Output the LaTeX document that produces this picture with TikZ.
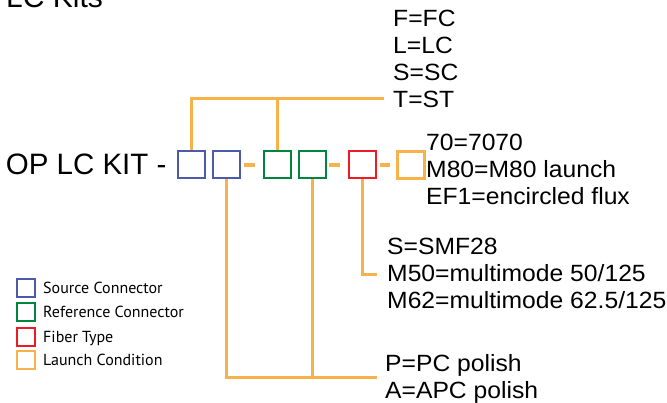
\documentclass[tikz,border=0pt]{standalone}
\usepackage{fontspec}
\setmainfont{Liberation Sans}
\newfontfamily\codefont[FakeStretch=1.05]{Liberation Sans}
\newfontfamily\legendfont{PT Sans}
\usetikzlibrary{positioning}

\definecolor{srcblue}{RGB}{75,90,170}
\definecolor{refgreen}{RGB}{0,133,63}
\definecolor{fibred}{RGB}{237,28,36}
\definecolor{launchorange}{RGB}{247,178,76}

\begin{document}
\begin{tikzpicture}[x=1pt, y=-1pt, kitbox/.style={draw, line width=2pt, minimum size=27pt, inner sep=0pt}, legbox/.style={draw, line width=2pt, minimum size=18pt, inner sep=0pt}, link/.style={launchorange, line width=4.5pt, shorten <=3pt, shorten >=8pt}, leader/.style={launchorange, line width=3pt}, codes/.style={font=\codefont\fontsize{23.5}{27}\selectfont, align=left, anchor=north west, inner sep=0pt}, legtext/.style={font=\legendfont\fontsize{16}{18}\selectfont, anchor=west, inner sep=0pt, text height=11.3pt, text depth=0pt}]
\useasboundingbox (0,0) rectangle (667,403);
\node[font=\fontsize{30}{36}\selectfont, anchor=base west, inner sep=0pt] (title) at (6,8){LC Kits};
\node[font=\fontsize{29.5}{35}\selectfont, anchor=base west, inner sep=0pt] (kitname) at (5.6,175){OP LC KIT -};
% part number boxes
\node[kitbox, srcblue] (src1) at (191.5,165){};
\node[kitbox, srcblue, right=5.5pt of src1] (src2){};
\node[kitbox, refgreen, right=22.5pt of src2] (ref1){};
\node[kitbox, refgreen, right=5.5pt of ref1] (ref2){};
\node[kitbox, fibred, right=21pt of ref2] (fib){};
\node[kitbox, launchorange, line width=3pt, right=19.5pt of fib] (lau){};
\draw[link] (src2.east) -- (ref1.west);
\draw[link, shorten <=2.5pt] (ref2.east) -- (fib.west);
\draw[link, shorten >=6pt] (fib.east) -- (lau.west);
% option lists
\node[codes] (conncodes) at (393,10){F=FC\\L=LC\\S=SC\\T=ST};
\node[codes] (launchcodes) at (426,134){70=7070\\M80=M80 launch\\EF1=encircled flux};
\node[codes] (fibcodes) at (387,238){S=SMF28\\M50=multimode 50/125\\M62=multimode 62.5/125};
\node[codes] (polishcodes) at (385,354){P=PC polish\\A=APC polish};
\coordinate (topend) at (384,99);
\coordinate (fibend) at (377,275);
\coordinate (botend) at (377,378);
\draw[leader] (src1.north) |- (topend);
\draw[leader] (ref1.north) -- (ref1.north |- topend);
\draw[leader] (fib.south) |- (fibend);
\draw[leader] (src2.south) |- (botend);
\draw[leader] (ref2.south) -- (ref2.south |- botend);
% legend
\node[legbox, srcblue] (legsrc) at (26,288){};
\node[legbox, refgreen] (legref) at (26,312){};
\node[legbox, fibred] (legfib) at (26,337){};
\node[legbox, launchorange] (leglau) at (26,360){};
\node[legtext, right=7pt of legsrc] {Source Connector};
\node[legtext, right=7pt of legref] {Reference Connector};
\node[legtext, right=7pt of legfib] {Fiber Type};
\node[legtext, right=7pt of leglau] {Launch Condition};
\end{tikzpicture}
\end{document}
